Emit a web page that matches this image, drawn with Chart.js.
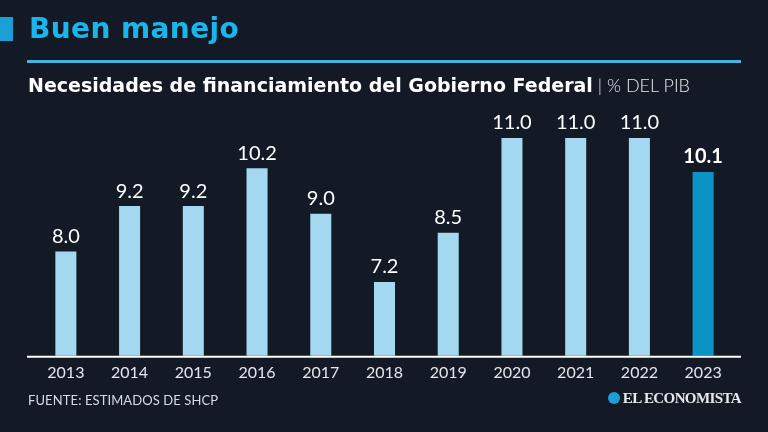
<!DOCTYPE html>
<html>
<head>
<meta charset="utf-8">
<script src="https://cdn.jsdelivr.net/npm/chart.js@4/dist/chart.umd.min.js"></script>
<style>
  html, body { margin: 0; padding: 0; background: #131a26; }
  #wrap { position: relative; width: 768px; height: 432px; overflow: hidden; background: #131a26; font-family: Lato, "Noto Sans", sans-serif; }
  #chart { position: absolute; left: 0; top: 0; }
  .mark { position: absolute; left: 0; top: 17px; width: 13px; height: 24px; background: #1a9fd6; }
  .title { position: absolute; left: 29px; top: 12px; font-family: "DejaVu Sans", sans-serif; font-size: 28px; font-weight: 700; color: #1ab5ea; letter-spacing: 0.4px; }
  .rule { position: absolute; left: 27px; top: 60px; width: 714px; height: 3px; background: #45b3e0; }
  .sub { position: absolute; left: 28px; top: 74px; font-family: "DejaVu Sans", sans-serif; font-size: 19px; font-weight: 700; color: #fff; white-space: nowrap; letter-spacing: 0px; }
  .sub span { font-family: Lato, "Noto Sans", sans-serif; font-weight: 300; color: #e8e8e8; font-size: 18px; letter-spacing: 0; margin-left: 5px; }
  .src { position: absolute; left: 28px; top: 392px; font-size: 13px; color: #d8dce2; letter-spacing: 0.1px; }
  .brand { position: absolute; right: 27px; top: 390px; font-family: "Liberation Serif", "DejaVu Serif", serif; font-weight: 700; font-size: 15px; color: #e6e8ec; letter-spacing: -0.6px; }
  .brand i { display: inline-block; width: 12px; height: 12px; border-radius: 50%; background: #1a9fd6; margin-right: 3px; vertical-align: -1px; }
</style>
</head>
<body>
<div id="wrap">
  <canvas id="chart" width="768" height="432"></canvas>
  <div class="mark"></div>
  <div class="title">Buen manejo</div>
  <div class="rule"></div>
  <div class="sub">Necesidades de financiamiento del Gobierno Federal<span>| % DEL PIB</span></div>
  <div class="src">FUENTE: ESTIMADOS DE SHCP</div>
  <div class="brand"><i></i>EL ECONOMISTA</div>
</div>
<script>
const years = ["2013", "2014", "2015", "2016", "2017", "2018", "2019", "2020", "2021", "2022", "2023"];
const values = [8.0, 9.2, 9.2, 10.2, 9.0, 7.2, 8.5, 11.0, 11.0, 11.0, 10.1];

const lastIndex = values.length - 1;
const barColors = values.map((v, i) => (i === lastIndex ? "#0a93c4" : "#a3d8f0"));

// value labels above bars + extended base line
const barLabels = {
  id: "barLabels",
  afterDatasetsDraw(chart) {
    const { ctx, chartArea } = chart;
    ctx.save();
    ctx.strokeStyle = "#ffffff";
    ctx.lineWidth = 2;
    ctx.beginPath();
    ctx.moveTo(27, chartArea.bottom + 1);
    ctx.lineTo(741, chartArea.bottom + 1);
    ctx.stroke();

    const meta = chart.getDatasetMeta(0);
    ctx.textAlign = "center";
    ctx.textBaseline = "bottom";
    meta.data.forEach((bar, i) => {
      const last = i === lastIndex;
      ctx.fillStyle = "#ffffff";
      ctx.font = (last ? "700 " : "400 ") + "20px Lato, 'Noto Sans', sans-serif";
      ctx.fillText(values[i].toFixed(1), bar.x, bar.y - 5);
    });
    ctx.restore();
  },
};

new Chart(document.getElementById("chart"), {
  type: "bar",
  data: {
    labels: years,
    datasets: [
      {
        data: values,
        backgroundColor: barColors,
        barPercentage: 0.33,
        categoryPercentage: 1,
      },
    ],
  },
  options: {
    responsive: false,
    animation: false,
    layout: { padding: { left: 34, right: 33, top: 100, bottom: 43 } },
    plugins: {
      legend: { display: false },
      tooltip: { enabled: false },
    },
    scales: {
      x: {
        grid: { display: false, drawTicks: false },
        border: { display: false },
        ticks: {
          color: "#e4e7ec",
          padding: 7,
          font: { family: "Lato, 'Noto Sans', sans-serif", size: 16 },
        },
      },
      y: {
        display: false,
        min: 5.25,
        max: 12,
      },
    },
  },
  plugins: [barLabels],
});
</script>
</body>
</html>
